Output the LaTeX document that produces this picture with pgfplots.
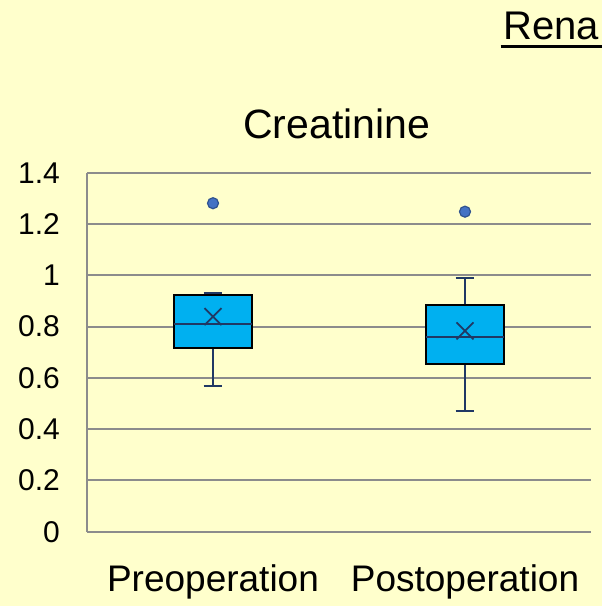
\documentclass[border=0pt]{standalone}
\usepackage{pgfplots}
\pgfplotsset{compat=1.18}
\usepgfplotslibrary{statistics}
\usepackage{fontspec}
\setmainfont{Liberation Sans}
\definecolor{bg}{HTML}{FFFFCC}
\definecolor{boxblue}{HTML}{00B0F0}
\definecolor{navy}{HTML}{203864}
\definecolor{dotblue}{HTML}{4472C4}
\definecolor{dotedge}{HTML}{2F528F}
\definecolor{gridgray}{HTML}{8C8C8C}
\begin{document}
\begin{tikzpicture}
\useasboundingbox (0,0) rectangle (602pt,606pt);
\fill[bg] (0,0) rectangle (602pt,606pt);
\node[anchor=base west, inner sep=0pt, font=\fontsize{40}{48}\selectfont] at (503pt,566.7pt) {Rena};
\draw[line width=2.5pt] (500.7pt,559.3pt) -- (602pt,559.3pt);
\node[anchor=base, inner sep=0pt, font=\fontsize{41}{49}\selectfont] at (336.7pt,467.7pt) {Creatinine};
\begin{axis}[
  at={(87pt,74.3pt)}, anchor=south west,
  scale only axis, width=504pt, height=359pt,
  xmin=0.5, xmax=2.5, ymin=0, ymax=1.4,
  xtick={1,2}, xticklabels={Preoperation,Postoperation},
  ytick={0,0.2,...,1.4},
  yticklabels={0,0.2,0.4,0.6,0.8,1,1.2,1.4},
  axis x line*=bottom, axis y line*=left,
  axis line style={draw=gridgray, line width=2pt},
  ymajorgrids, major grid style={draw=gridgray, line width=2pt},
  major tick style={draw=none},
  boxplot/draw direction=y,
  /pgf/number format/assume math mode=true,
  yticklabel style={font=\fontsize{30}{36}\selectfont, inner sep=0pt, anchor=east, xshift=-27pt},
  xticklabel style={font=\fontsize{37}{44}\selectfont, inner sep=0pt, anchor=north, yshift=-33pt},
  clip=false,
]
\addplot[boxplot prepared={draw position=1, lower whisker=0.568, lower quartile=0.718, median=0.810, upper quartile=0.923, upper whisker=0.930, box extend=0.31, whisker extend=0.075,
  every box/.style={draw=black, line width=2pt, fill=boxblue},
  every whisker/.style={draw=navy, line width=2pt},
  every median/.style={draw=navy, line width=2pt}},
  draw=navy, mark=*, mark size=5.5pt, mark options={fill=dotblue, draw=dotedge, line width=1.2pt}]
  table[row sep=\\, y index=0] {1.281\\};
\addplot[boxplot prepared={draw position=2, lower whisker=0.470, lower quartile=0.655, median=0.760, upper quartile=0.884, upper whisker=0.989, box extend=0.31, whisker extend=0.075,
  every box/.style={draw=black, line width=2pt, fill=boxblue},
  every whisker/.style={draw=navy, line width=2pt},
  every median/.style={draw=navy, line width=2pt}},
  draw=navy, mark=*, mark size=5.5pt, mark options={fill=dotblue, draw=dotedge, line width=1.2pt}]
  table[row sep=\\, y index=0] {1.248\\};
\addplot[only marks, mark=x, mark size=12pt, mark options={draw=navy, line width=1.8pt}] coordinates {(1,0.839) (2,0.783)};
\end{axis}
\end{tikzpicture}
\end{document}
